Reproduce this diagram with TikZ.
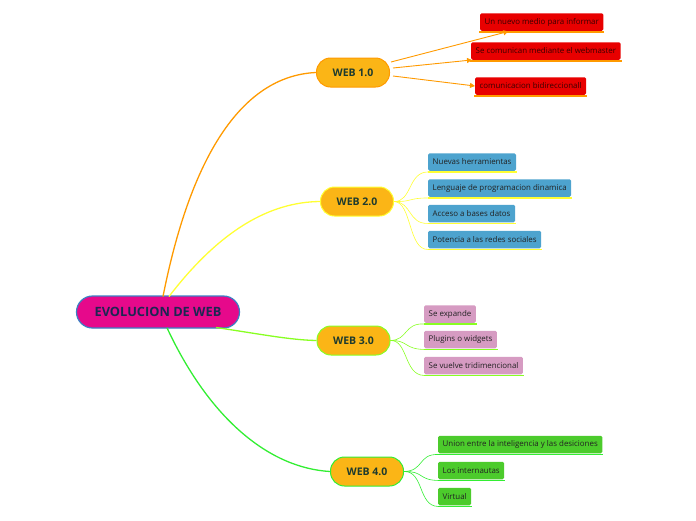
\documentclass[tikz,border=0pt]{standalone}
\usepackage{fontspec}
\setmainfont{Open Sans}
\usetikzlibrary{calc,arrows.meta}
\definecolor{rootfill}{HTML}{E6098B}
\definecolor{rootdraw}{HTML}{3A80C4}
\definecolor{roottext}{HTML}{1C2752}
\definecolor{webfill}{HTML}{FBB516}
\definecolor{webtext}{HTML}{1E3B2E}
\definecolor{corange}{HTML}{FF9A00}
\definecolor{cyellow}{HTML}{FFFF33}
\definecolor{clime}{HTML}{88FF22}
\definecolor{cgreen}{HTML}{33EE33}
\definecolor{redbox}{HTML}{E80000}
\definecolor{bluebox}{HTML}{4DA3CE}
\definecolor{pinkbox}{HTML}{D69BC2}
\definecolor{greenbox}{HTML}{4CCB2C}
\definecolor{childtext}{HTML}{222222}
\definecolor{redtext}{HTML}{3A0000}
\begin{document}
\begin{tikzpicture}[x=1pt,y=-1pt,
  rootnode/.style={draw=rootdraw,line width=1.2pt,fill=rootfill,rounded corners=16pt,minimum width=163pt,minimum height=32pt,text=roottext,font=\bfseries\fontsize{12.8}{14}\selectfont},
  webnode/.style={fill=webfill,line width=1pt,rounded corners=14pt,minimum width=73pt,minimum height=29pt,text=webtext,font=\bfseries\fontsize{10.5}{12}\selectfont},
  childbox/.style={rounded corners=1.5pt,anchor=west,minimum height=17.5pt,inner xsep=4.5pt,inner ysep=0pt,text=childtext,font=\fontsize{7.9}{9}\selectfont},
  branch/.style={line width=1.3pt},
  twig/.style={line width=0.6pt},
  uline/.style={line width=1.3pt}
]
\useasboundingbox (0,0) rectangle (696,520);
% central
\node[rootnode] (root) at (158,312) {EVOLUCION DE WEB};
% main nodes
\node[webnode,draw=corange] (w1) at (353,72.5) {WEB 1.0};
\node[webnode,draw=cyellow] (w2) at (357,201.5) {WEB 2.0};
\node[webnode,draw=clime] (w3) at (353.5,340.5) {WEB 3.0};
\node[webnode,draw=cgreen] (w4) at (367,471.5) {WEB 4.0};
% main branches
\draw[branch,corange] (163,296.5) .. controls (190,160) and (240,76) .. (w1.west);
\draw[branch,cyellow] (169,296.5) .. controls (220,230) and (270,202) .. (w2.west);
\draw[branch,clime] (216,327.5) .. controls (260,334) and (290,340) .. (w3.west);
\draw[branch,cgreen] (167,327.8) .. controls (210,420) and (270,468) .. (w4.west);
% WEB 1.0 children
\node[childbox,fill=redbox,text=redtext] (a1) at (480,22) {Un nuevo medio para informar};
\node[childbox,fill=redbox,text=redtext] (a2) at (471,51) {Se comunican mediante el webmaster};
\node[childbox,fill=redbox,text=redtext] (a3) at (475,86) {comunicacion bidireccionall};
\foreach \c in {a1,a2,a3}{\draw[uline,corange] ($(\c.south west)+(-1,1)$) -- ($(\c.south east)+(1,1)$);}
\draw[corange,line width=0.9pt,-{Triangle[length=5pt,width=5pt]}] (391,62) -- ($(a1.south west)!0.23!(a1.south east)+(0,0.5)$);
\draw[corange,line width=0.9pt,-{Triangle[length=5pt,width=5pt]}] (393,68) -- ($(a2.south west)+(1,0)$);
\draw[corange,line width=0.9pt,-{Triangle[length=5pt,width=5pt]}] (393,76) -- (a3.west);
% WEB 2.0 children
\node[childbox,fill=bluebox] (b1) at (428,162) {Nuevas herramientas};
\node[childbox,fill=bluebox] (b2) at (428,188) {Lenguaje de programacion dinamica};
\node[childbox,fill=bluebox] (b3) at (428,213.5) {Acceso a bases datos};
\node[childbox,fill=bluebox] (b4) at (428,239.5) {Potencia a las redes sociales};
\foreach \c in {b1,b2,b3,b4}{
  \draw[uline,cyellow] ($(\c.south west)+(0,1)$) -- ($(\c.south east)+(1,1)$);
}
\draw[twig,cyellow] (w2.east) .. controls (412,202) and (408,172) .. ($(b1.south west)+(0,1)$);
\draw[twig,cyellow] (w2.east) .. controls (412,202) and (408,198) .. ($(b2.south west)+(0,1)$);
\draw[twig,cyellow] (w2.east) .. controls (412,202) and (408,224) .. ($(b3.south west)+(0,1)$);
\draw[twig,cyellow] (w2.east) .. controls (412,202) and (408,250) .. ($(b4.south west)+(0,1)$);
% WEB 3.0 children
\node[childbox,fill=pinkbox] (c1) at (424,314) {Se expande};
\node[childbox,fill=pinkbox] (c2) at (424,339.5) {Plugins o widgets};
\node[childbox,fill=pinkbox] (c3) at (424,365.5) {Se vuelve tridimencional};
\foreach \c in {c1,c2,c3}{
  \draw[uline,clime] ($(\c.south west)+(0,1)$) -- ($(\c.south east)+(1,1)$);
}
\draw[twig,clime] (w3.east) .. controls (408,340) and (404,323) .. ($(c1.south west)+(0,1)$);
\draw[twig,clime] (w3.east) .. controls (408,340) and (404,349) .. ($(c2.south west)+(0,1)$);
\draw[twig,clime] (w3.east) .. controls (408,340) and (404,375) .. ($(c3.south west)+(0,1)$);
% WEB 4.0 children
\node[childbox,fill=greenbox] (d1) at (438,444.5) {Union entre la inteligencia y las desiciones};
\node[childbox,fill=greenbox] (d2) at (438,470.5) {Los internautas};
\node[childbox,fill=greenbox] (d3) at (438,496.5) {Virtual};
\foreach \c in {d1,d2,d3}{
  \draw[uline,cgreen] ($(\c.south west)+(0,1)$) -- ($(\c.south east)+(1,1)$);
}
\draw[twig,cgreen] (w4.east) .. controls (424,471) and (418,454) .. ($(d1.south west)+(0,1)$);
\draw[twig,cgreen] (w4.east) .. controls (424,471) and (418,480) .. ($(d2.south west)+(0,1)$);
\draw[twig,cgreen] (w4.east) .. controls (424,471) and (418,506) .. ($(d3.south west)+(0,1)$);
\end{tikzpicture}
\end{document}
